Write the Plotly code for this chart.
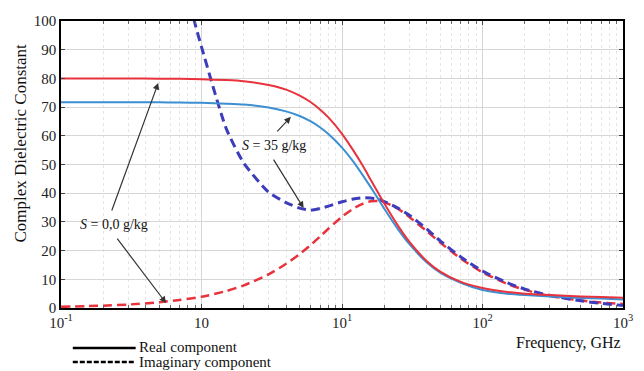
import plotly.graph_objects as go

# Frequencies (GHz)
freq = [0.1, 0.2, 0.3, 0.5, 0.7, 1, 1.5, 2, 3, 4, 5, 6, 7, 8, 10, 12, 14, 16, 18, 20,
        25, 30, 40, 50, 70, 100, 150, 200, 300, 500, 700, 1000]

# S = 0.0 g/kg (red)
real_s0 = [80.0, 80.0, 80.0, 79.9, 79.9, 79.7, 79.4, 79.0, 77.7, 76.1, 74.0, 71.7, 69.1, 66.4,
           60.7, 55.0, 49.7, 44.7, 40.3, 36.4, 28.7, 23.2, 16.4, 12.7, 9.1, 7.0, 5.6, 5.0,
           4.5, 4.0, 3.8, 3.6]
imag_s0 = [0.4, 0.8, 1.2, 2.0, 2.8, 3.9, 5.9, 7.9, 11.7, 15.4, 18.8, 22.0, 25.0, 27.6,
           31.8, 34.6, 36.3, 37.2, 37.3, 36.9, 34.6, 31.8, 26.8, 22.8, 17.2, 12.4, 8.4, 6.3,
           4.2, 2.6, 1.9, 1.4]

# S = 35 g/kg (blue)
real_s35 = [71.7, 71.7, 71.7, 71.65, 71.6, 71.5, 71.2, 70.9, 69.9, 68.5, 66.9, 65.0, 62.9, 60.6,
            55.9, 51.1, 46.4, 42.1, 38.2, 34.6, 27.5, 22.4, 15.9, 12.3, 8.8, 6.3, 5.0, 4.5,
            4.0, 3.5, 3.3, 3.0]
freq_imag_s35 = [0.75, 0.9, 1, 1.5, 2, 3, 4, 5, 6, 7, 8, 10, 12, 14, 16, 18, 20, 25, 30, 40,
                 50, 70, 100, 150, 200, 300, 500, 700, 1000]
imag_s35 = [115, 99, 91, 62.5, 50.5, 40.4, 36.7, 34.8, 34.1, 34.7, 35.5, 37.0, 37.95, 38.4,
            38.3, 37.9, 37.1, 34.8, 32.4, 27.6, 23.4, 17.8, 12.9, 8.8, 6.6, 4.4, 2.5, 1.6, 0.9]

x_tickvals = [0.1, 1, 10, 100, 1000]
x_ticktext = ["10<sup>-1</sup>", "10", "10<sup>1</sup>", "10<sup>2</sup>", "10<sup>3</sup>"]
minor_vals = [m * 10 ** k for k in range(-1, 3) for m in range(2, 10)]

RED = "#e8323c"
BLUE = "#3b8fd2"
DBLUE = "#3d3dbb"
FONT = "Liberation Serif, Times New Roman, DejaVu Serif, serif"

fig = go.Figure()
fig.add_trace(go.Scatter(x=freq, y=imag_s0, mode="lines",
                         line=dict(color=RED, width=2.5, dash="9px,5px", shape="spline", smoothing=0.6)))
fig.add_trace(go.Scatter(x=freq_imag_s35, y=imag_s35, mode="lines",
                         line=dict(color=DBLUE, width=3, dash="9px,5px", shape="spline", smoothing=0.6)))
fig.add_trace(go.Scatter(x=freq, y=real_s35, mode="lines",
                         line=dict(color=BLUE, width=2, shape="spline", smoothing=0.6)))
fig.add_trace(go.Scatter(x=freq, y=real_s0, mode="lines",
                         line=dict(color=RED, width=2, shape="spline", smoothing=0.6)))

axis_common = dict(showline=True, linecolor="black", linewidth=1.5, mirror="ticks",
                   ticks="inside", ticklen=4, tickcolor="#444", zeroline=False,
                   tickfont=dict(family=FONT, size=15, color="#222"))

fig.update_xaxes(type="log", range=[-1, 3], tickvals=x_tickvals, ticktext=x_ticktext,
                 showgrid=True, gridcolor="#d6d6d6", gridwidth=1,
                 minor=dict(tickvals=minor_vals, showgrid=True, gridcolor="#e6e6e6",
                            griddash="dot", ticks="inside", ticklen=3, tickcolor="#666"),
                 **axis_common)
fig.update_yaxes(range=[0, 100], dtick=10, showgrid=True, gridcolor="#d6d6d6", gridwidth=1,
                 **axis_common)

ann = []
# Axis titles
ann.append(dict(text="Complex Dielectric Constant", xref="paper", yref="paper", x=-0.072, y=0.575,
                xanchor="center", yanchor="middle",
                textangle=-90, showarrow=False, font=dict(family=FONT, size=17, color="#111")))
ann.append(dict(text="Frequency, GHz", xref="paper", yref="paper", x=1.0, y=-0.122,
                xanchor="right", yanchor="middle", showarrow=False,
                font=dict(family=FONT, size=16, color="#111")))
# Curve labels
ann.append(dict(text="<i>S</i> = 0,0 g/kg", xref="paper", yref="paper", x=(115 - 61) / 572, y=(308 - 224) / 287,
                xanchor="center", yanchor="middle",
                showarrow=False, font=dict(family=FONT, size=14, color="#111")))
ann.append(dict(text="<i>S</i> = 35 g/kg", xref="paper", yref="paper", x=(278 - 61) / 572, y=(308 - 145) / 287,
                xanchor="center", yanchor="middle",
                showarrow=False, font=dict(family=FONT, size=14, color="#111")))
# Arrows (head in data coords: x is log10(freq))
arrow = dict(text="", showarrow=True, arrowhead=2, arrowsize=1.1, arrowwidth=1.2, arrowcolor="#333",
             xref="x", yref="y", axref="pixel", ayref="pixel")
ann.append(dict(arrow, x=-0.308, y=78.4, ax=-47, ay=129))
ann.append(dict(arrow, x=-0.252, y=1.7, ax=-50, ay=-66))
ann.append(dict(arrow, x=0.636, y=66.6, ax=-15, ay=16))
ann.append(dict(arrow, x=0.727, y=34.8, ax=-31, ay=-50))
# Legend texts
ann.append(dict(text="Real component", xref="paper", yref="paper", x=(138 - 61) / 572, y=(308 - 347) / 287,
                xanchor="left", yanchor="middle", showarrow=False, font=dict(family=FONT, size=15, color="#111")))
ann.append(dict(text="Imaginary component", xref="paper", yref="paper", x=(138 - 61) / 572, y=(308 - 362) / 287,
                xanchor="left", yanchor="middle", showarrow=False, font=dict(family=FONT, size=15, color="#111")))

shapes = [
    dict(type="line", xref="paper", yref="paper", x0=(73 - 61) / 572, x1=(137 - 61) / 572,
         y0=(308 - 348) / 287, y1=(308 - 348) / 287, line=dict(color="black", width=2.5)),
    dict(type="line", xref="paper", yref="paper", x0=(73 - 61) / 572, x1=(137 - 61) / 572,
         y0=(308 - 362) / 287, y1=(308 - 362) / 287, line=dict(color="black", width=2.5, dash="5px,2px")),
]

fig.update_layout(width=644, height=371, margin=dict(l=61, r=11, t=21, b=63),
                  paper_bgcolor="white", plot_bgcolor="white", showlegend=False,
                  font=dict(family=FONT), annotations=ann, shapes=shapes)

fig.write_html("out.html")
